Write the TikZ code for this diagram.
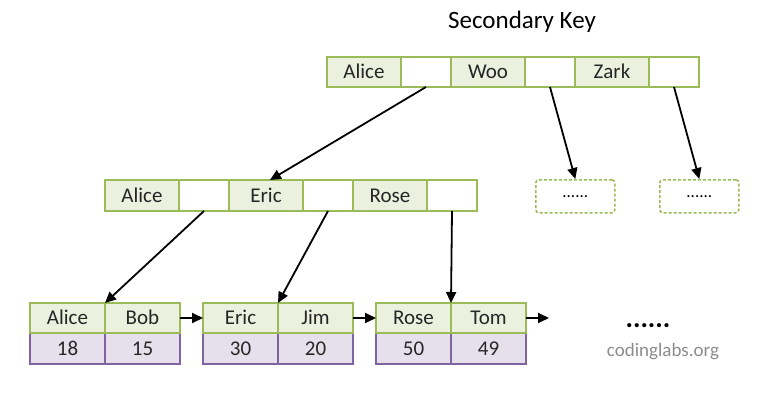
\documentclass[tikz,border=0pt]{standalone}
\usepackage{fontspec}
\setmainfont{Carlito}
\usetikzlibrary{arrows.meta}
\definecolor{gborder}{HTML}{9BBB59}
\definecolor{gfill}{HTML}{EBF1DE}
\definecolor{pborder}{HTML}{8064A2}
\definecolor{pfill}{HTML}{E6E0EC}
\definecolor{txtgray}{HTML}{8C8C8C}
\begin{document}
\begin{tikzpicture}[x=1pt,y=-1pt,
  cell/.style={draw, line width=1.7pt, inner sep=0pt, outer sep=0pt, anchor=north west,
    font=\fontsize{21}{21}\selectfont, text=black!85, text height=15pt, text depth=2pt},
  keycell/.style={cell, draw=gborder, fill=gfill, minimum width=74pt, minimum height=30pt},
  ptrcell/.style={cell, draw=gborder, fill=white, minimum width=50pt, minimum height=30pt},
  leafkey/.style={cell, draw=gborder, fill=gfill, minimum width=75pt, minimum height=30pt},
  leafval/.style={cell, draw=pborder, fill=pfill, minimum width=75pt, minimum height=31pt},
  dashbox/.style={draw=gborder, line width=1.6pt, dash pattern=on 3pt off 2pt, rounded corners=3pt,
    inner sep=0pt, anchor=north west, minimum width=79pt, minimum height=33pt,
    font=\fontsize{17}{17}\selectfont},
  link/.style={line width=1.8pt, -{Triangle[length=11pt,width=10pt]}}
]
\useasboundingbox (0,0) rectangle (766,404);
\node (title) at (522,22) {\fontsize{25}{25}\selectfont Secondary Key};
% top level
\node[keycell] (t1) at (327,57) {Alice};
\node[ptrcell] (t2) at (401,57) {};
\node[keycell] (t3) at (451,57) {Woo};
\node[ptrcell] (t4) at (525,57) {};
\node[keycell] (t5) at (575,57) {Zark};
\node[ptrcell] (t6) at (649,57) {};
% middle level
\node[keycell, minimum height=31pt] (m1) at (105,180) {Alice};
\node[ptrcell, minimum height=31pt] (m2) at (179,180) {};
\node[keycell, minimum height=31pt] (m3) at (229,180) {Eric};
\node[ptrcell, minimum height=31pt] (m4) at (303,180) {};
\node[keycell, minimum height=31pt] (m5) at (353,180) {Rose};
\node[ptrcell, minimum height=31pt] (m6) at (427,180) {};
% dashed placeholders
\node[dashbox] (d1) at (535,179) {......};
\node[dashbox] (d2) at (659,179) {......};
% leaves: value rows first, key rows on top
\node[leafval] (l1c) at (30,333) {18};
\node[leafval] (l1d) at (105,333) {15};
\node[leafval] (l2c) at (203,333) {30};
\node[leafval] (l2d) at (278,333) {20};
\node[leafval] (l3c) at (376,333) {50};
\node[leafval] (l3d) at (451,333) {49};
\node[leafkey] (l1a) at (30,303) {Alice};
\node[leafkey] (l1b) at (105,303) {Bob};
\node[leafkey] (l2a) at (203,303) {Eric};
\node[leafkey] (l2b) at (278,303) {Jim};
\node[leafkey] (l3a) at (376,303) {Rose};
\node[leafkey] (l3b) at (451,303) {Tom};
\coordinate (tail) at (549,318);
% connectors
\draw[link] (t2.south) -- ([xshift=4pt]m3.north);
\draw[link] (t4.south) -- (d1.north);
\draw[link] (t6.south) -- (d2.north);
\draw[link] (m2.south) -- (l1a.north east);
\draw[link] (m4.south) -- (l2a.north east);
\draw[link] (m6.south) -- (l3a.north east);
\draw[link] (l1b.east) -- (l2a.west);
\draw[link] (l2b.east) -- (l3a.west);
\draw[link] (l3b.east) -- (tail);
% extra text
\node (dots) at (648,326) {\fontsize{28}{28}\selectfont\bfseries ......};
\node[text=txtgray] (site) at (663,352) {\fontsize{19}{19}\selectfont codinglabs.org};
\end{tikzpicture}
\end{document}
